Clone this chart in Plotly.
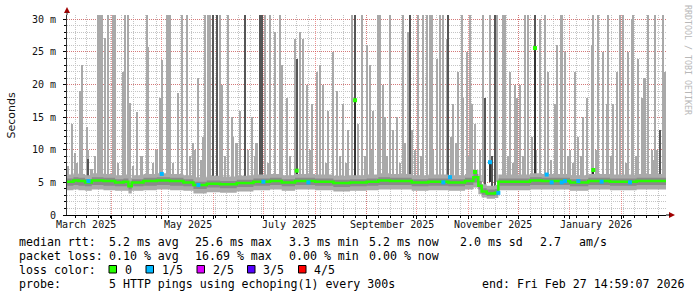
import plotly.graph_objects as go

# ---------------- data ----------------
x_start = "2025-03-05 03:00"
x_end = "2026-02-27 14:59:07"

# median RTT (ms), step series
med_dates = ["2025-03-05", "2025-03-09", "2025-03-12", "2025-03-16", "2025-03-20", "2025-03-27",
             "2025-04-03", "2025-04-08", "2025-04-11", "2025-04-13", "2025-04-20", "2025-04-28",
             "2025-05-06", "2025-05-14", "2025-05-20", "2025-05-28", "2025-06-05", "2025-06-15",
             "2025-06-25", "2025-07-05", "2025-07-12", "2025-07-20", "2025-08-01", "2025-08-12",
             "2025-08-22", "2025-09-01", "2025-09-08", "2025-09-15", "2025-09-28", "2025-10-08",
             "2025-10-20", "2025-10-30", "2025-11-04", "2025-11-07", "2025-11-09", "2025-11-12",
             "2025-11-17", "2025-11-19", "2025-12-01", "2025-12-08", "2025-12-15", "2026-01-01",
             "2026-01-12", "2026-01-25", "2026-02-10", "2026-02-27 14:59"]
med_ms = [5.1, 5.3, 5.2, 5.0, 5.3, 5.2,
          5.0, 5.1, 4.4, 5.0, 5.2, 5.3,
          5.2, 5.0, 4.6, 4.8, 4.7, 4.9,
          5.1, 5.2, 5.0, 5.2, 5.1, 4.9,
          5.0, 5.1, 5.3, 5.2, 5.0, 5.1,
          5.0, 5.2, 5.8, 4.5, 3.6, 3.3,
          3.4, 5.1, 5.1, 5.3, 5.2, 5.0,
          5.2, 5.1, 5.2, 5.2]
smoke_lo = [3.8, 3.9, 3.8, 3.7, 3.9, 3.8,
            3.7, 3.7, 3.3, 3.7, 3.8, 3.9,
            3.8, 3.7, 3.3, 3.5, 3.4, 3.6,
            3.8, 3.9, 3.7, 3.9, 3.8, 3.6,
            3.7, 3.8, 3.9, 3.9, 3.7, 3.8,
            3.7, 3.9, 4.2, 3.2, 2.7, 2.5,
            2.6, 3.8, 3.8, 3.9, 3.9, 3.7,
            3.9, 3.8, 3.9, 3.9]
core_lo = [4.5, 4.6, 4.5, 4.4, 4.6, 4.5,
           4.4, 4.4, 3.9, 4.4, 4.5, 4.6,
           4.5, 4.4, 4.0, 4.2, 4.1, 4.3,
           4.5, 4.6, 4.4, 4.6, 4.5, 4.3,
           4.4, 4.5, 4.6, 4.6, 4.4, 4.5,
           4.4, 4.6, 5.0, 3.9, 3.1, 2.9,
           3.0, 4.5, 4.5, 4.6, 4.6, 4.4,
           4.6, 4.5, 4.6, 4.6]
core_hi = [5.6, 5.8, 5.7, 5.5, 5.8, 5.7,
           5.5, 5.6, 5.0, 5.5, 5.7, 5.8,
           5.7, 5.5, 5.1, 5.3, 5.2, 5.4,
           5.6, 5.7, 5.5, 5.7, 5.6, 5.4,
           5.5, 5.6, 5.8, 5.7, 5.5, 5.6,
           5.5, 5.7, 6.3, 5.2, 4.1, 3.9,
           4.0, 5.6, 5.6, 5.8, 5.7, 5.5,
           5.7, 5.6, 5.7, 5.7]
smoke_hi = [6.2, 6.4, 6.3, 6.1, 6.4, 6.3,
            6.1, 6.2, 5.7, 6.1, 6.3, 6.4,
            6.3, 6.1, 5.8, 6.0, 5.9, 6.0,
            6.2, 6.3, 6.1, 6.3, 6.2, 6.0,
            6.1, 6.2, 6.4, 6.3, 6.1, 6.2,
            6.1, 6.3, 6.9, 6.0, 4.7, 4.5,
            4.6, 6.2, 6.2, 6.4, 6.3, 6.1,
            6.3, 6.2, 6.3, 6.3]

# light-grey smoke spikes (highest ping of a sample, ms); 31 = off the top
spike_dates = ["2025-03-08", "2025-03-10", "2025-03-13", "2025-03-14", "2025-03-17", "2025-03-18",
               "2025-03-24", "2025-03-25", "2025-03-26", "2025-03-28", "2025-03-30", "2025-04-02",
               "2025-04-03", "2025-04-08", "2025-04-09", "2025-04-11", "2025-04-12", "2025-04-16",
               "2025-04-22", "2025-04-23", "2025-04-30", "2025-05-01", "2025-05-04", "2025-05-05",
               "2025-05-06", "2025-05-11", "2025-05-13", "2025-05-16", "2025-05-23", "2025-05-26",
               "2025-05-27", "2025-05-29", "2025-05-30", "2025-06-05", "2025-06-06", "2025-06-10",
               "2025-06-12", "2025-06-15", "2025-06-17", "2025-06-24", "2025-07-02", "2025-07-05",
               "2025-07-08", "2025-07-11", "2025-07-12", "2025-07-15", "2025-07-20", "2025-07-23",
               "2025-07-25", "2025-07-27", "2025-07-30", "2025-08-02", "2025-08-04", "2025-08-06",
               "2025-08-09", "2025-08-12", "2025-08-14", "2025-08-18", "2025-08-21", "2025-08-23",
               "2025-08-27", "2025-08-29", "2025-09-01", "2025-09-03", "2025-09-05", "2025-09-08",
               "2025-09-09", "2025-09-11", "2025-09-12", "2025-09-15", "2025-09-17", "2025-09-19",
               "2025-09-23", "2025-09-26", "2025-09-28", "2025-09-30", "2025-10-02", "2025-10-05",
               "2025-10-07", "2025-10-09", "2025-10-10", "2025-10-13", "2025-10-15", "2025-10-17",
               "2025-10-19", "2025-10-23", "2025-10-26", "2025-10-28", "2025-10-29", "2025-10-31",
               "2025-11-02", "2025-11-03", "2025-11-05", "2025-11-08", "2025-11-10", "2025-11-14",
               "2025-11-18", "2025-11-22", "2025-11-23", "2025-11-26", "2025-11-29", "2025-11-30",
               "2025-12-02", "2025-12-05", "2025-12-07", "2025-12-09", "2025-12-14", "2025-12-17",
               "2025-12-19", "2025-12-23", "2025-12-24", "2025-12-27", "2025-12-29", "2026-01-01",
               "2026-01-04", "2026-01-06", "2026-01-09", "2026-01-11", "2026-01-14", "2026-01-15",
               "2026-01-18", "2026-01-21", "2026-01-23", "2026-01-24", "2026-01-27", "2026-01-29",
               "2026-01-31", "2026-02-02", "2026-02-05", "2026-02-07", "2026-02-08", "2026-02-11",
               "2026-02-13", "2026-02-15", "2026-02-17", "2026-02-19", "2026-02-21", "2026-02-22",
               "2026-02-26", "2026-02-27"]
spike_ms = [14, 9.5, 19, 23, 13.5, 10,
            31, 31, 31, 27.2, 31, 31,
            31, 22, 31, 31, 17.1, 15.8,
            31, 25.7, 18, 23.7, 31, 31,
            31, 18.7, 31, 31, 21, 12,
            31, 31, 31, 31, 20, 31,
            15, 11, 16, 15, 31, 31,
            28, 31, 23, 18, 27, 28,
            27, 20, 17, 22, 23, 20,
            16, 25, 19, 17, 13, 31,
            14, 31, 26, 23, 16, 31,
            31, 20, 15, 31, 13, 15,
            31, 28, 13, 10, 31, 31,
            31, 31, 31, 24, 31, 31,
            27, 17, 22, 31, 18, 25,
            31, 17, 14, 10, 31, 31,
            31, 31, 31, 22, 20, 18,
            20, 31, 31, 12, 30, 31,
            22, 17, 26, 31, 25, 10,
            22, 12, 15, 18, 26, 31,
            31, 25, 17, 31, 17, 22,
            31, 31, 25, 30, 31, 24,
            18, 21, 31, 10, 31, 10,
            31, 22]

# small light-grey spikes just above the band (ms)
fuzz_dates = ["2025-03-06", "2025-03-11", "2025-03-20", "2025-03-22", "2025-04-05", "2025-04-14",
              "2025-04-19", "2025-04-26", "2025-04-28", "2025-05-08", "2025-05-18", "2025-05-20",
              "2025-05-21", "2025-05-25", "2025-06-08", "2025-06-13", "2025-06-22", "2025-06-26",
              "2025-06-27", "2025-07-04", "2025-07-17", "2025-07-29", "2025-08-08", "2025-08-16",
              "2025-08-20", "2025-08-31", "2025-09-04", "2025-09-13", "2025-09-21", "2025-09-24",
              "2025-10-04", "2025-10-11", "2025-10-22", "2025-10-25", "2025-11-01", "2025-11-25",
              "2025-11-28", "2025-12-04", "2025-12-12", "2025-12-21", "2025-12-31", "2026-01-03",
              "2026-01-08", "2026-01-17", "2026-01-26", "2026-02-04", "2026-02-10", "2026-02-14",
              "2026-02-20"]
fuzz_ms = [7.5, 8, 7, 9, 8, 7.5,
           9, 8, 10, 8, 9, 11,
           10, 8.5, 9, 12, 10, 9,
           11, 8, 9, 10, 8, 9,
           8, 9, 10, 9, 8, 11,
           9, 10, 12, 11, 9, 9,
           8, 9, 10, 8.5, 9, 8,
           9, 10, 9, 8, 9, 8,
           8.5]

# dark-grey smoke spikes (several pings high, ms)
dark_dates = ["2025-03-18", "2025-06-01", "2025-06-03", "2025-06-20", "2025-06-29", "2025-06-30",
              "2025-07-21", "2025-08-25", "2025-09-27", "2025-10-20", "2025-11-11", "2025-11-15",
              "2025-11-17", "2025-12-11", "2026-02-24"]
dark_ms = [8.6, 31, 31, 31, 31, 31,
           24, 31, 31, 31, 18, 9,
           31, 31, 13]

# median samples far above the band (ms) and their loss class (0 or 1 of 5)
medspike_dates = ["2025-07-21", "2025-08-25", "2025-11-05", "2025-11-14", "2025-12-11", "2026-01-15"]
medspike_ms = [6.8, 17.6, 6.6, 8.1, 25.6, 6.9]
medspike_loss = [0, 0, 0, 1, 0, 0]

# samples with 1/5 packet loss
loss1_dates = ["2025-03-18", "2025-05-01", "2025-05-23", "2025-07-01", "2025-07-28", "2025-10-17",
               "2025-10-21", "2025-11-19", "2025-12-18", "2025-12-21", "2025-12-27", "2025-12-29",
               "2026-01-06", "2026-01-20", "2026-02-06"]
loss1_ms = [5.2, 6.3, 4.6, 5.1, 5.0, 5.0,
            5.8, 3.4, 6.2, 5.0, 5.0, 5.2,
            5.2, 5.1, 5.0]

month_starts = ["2025-04-01", "2025-05-01", "2025-06-01", "2025-07-01", "2025-08-01", "2025-09-01",
                "2025-10-01", "2025-11-01", "2025-12-01", "2026-01-01", "2026-02-01"]
label_dates = ["2025-03-16 12:00", "2025-05-16 12:00", "2025-07-16 12:00", "2025-09-16", "2025-11-16",
               "2026-01-16 12:00"]
label_text = ["March 2025", "May 2025", "July 2025", "September 2025", "November 2025", "January 2026"]

y_ticks = [0, 5, 10, 15, 20, 25, 30]
y_ticktext = ["0", "5 m", "10 m", "15 m", "20 m", "25 m", "30 m"]

loss_names = ["0", "1/5", "2/5", "3/5", "4/5"]
loss_colors = ["#26ff00", "#00b8ff", "#dd00ff", "#5500ff", "#ff0000"]

stats_rtt = ["median rtt:", "5.2 ms avg", "25.6 ms max", "3.3 ms min", "5.2 ms now", "2.0 ms sd", "2.7", "am/s"]
stats_loss = ["packet loss:", "0.10 % avg", "16.69 % max", "0.00 % min", "0.00 % now"]
probe_text = "5 HTTP pings using echoping(1) every 300s"
end_text = "end: Fri Feb 27 14:59:07 2026"

# ---------------- figure ----------------
DAY = 86400000
BASE = 5.0
W, H = 697, 297
L, R, T, B = 67, 31, 15, 82
PW, PH = W - L - R, H - T - B
MONO = "DejaVu Sans Mono"


def px(x):
    return (x - L) / PW


def py(y):
    return (T + PH - y) / PH


fig = go.Figure()

# light spikes
fig.add_trace(go.Bar(x=spike_dates, y=[v - BASE for v in spike_ms], base=BASE,
                     width=[1.2 * DAY] * len(spike_dates), marker=dict(color="#a9a9a9", line_width=0),
                     hoverinfo="skip"))
fig.add_trace(go.Bar(x=fuzz_dates, y=[v - BASE for v in fuzz_ms], base=BASE,
                     width=[1.0 * DAY] * len(fuzz_dates), marker=dict(color="#a9a9a9", line_width=0),
                     hoverinfo="skip"))
# outer smoke
fig.add_trace(go.Scatter(x=med_dates, y=smoke_lo, mode="lines", line=dict(width=0, shape="hv"),
                         hoverinfo="skip"))
fig.add_trace(go.Scatter(x=med_dates, y=smoke_hi, mode="lines", line=dict(width=0, shape="hv"),
                         fill="tonexty", fillcolor="#aaaaaa", hoverinfo="skip"))
# core smoke
fig.add_trace(go.Scatter(x=med_dates, y=core_lo, mode="lines", line=dict(width=0, shape="hv"),
                         hoverinfo="skip"))
fig.add_trace(go.Scatter(x=med_dates, y=core_hi, mode="lines", line=dict(width=0, shape="hv"),
                         fill="tonexty", fillcolor="#8a8a8a", hoverinfo="skip"))
# dark spikes
fig.add_trace(go.Bar(x=dark_dates, y=[v - BASE + 1.0 for v in dark_ms], base=BASE - 1.0,
                     width=[0.8 * DAY] * len(dark_dates), marker=dict(color="#555555", line_width=0),
                     hoverinfo="skip"))
fig.add_trace(go.Bar(x=medspike_dates, y=[v - BASE for v in medspike_ms], base=BASE,
                     width=[0.7 * DAY] * len(medspike_dates), marker=dict(color="#333333", line_width=0),
                     hoverinfo="skip"))
# median line
fig.add_trace(go.Scatter(x=med_dates, y=med_ms, mode="lines",
                         line=dict(color=loss_colors[0], width=2.5, shape="hv"), hoverinfo="skip"))
# loss markers
fig.add_trace(go.Scatter(x=loss1_dates, y=loss1_ms, mode="markers",
                         marker=dict(symbol="square", size=4, color=loss_colors[1], line_width=0),
                         hoverinfo="skip"))
fig.add_trace(go.Scatter(x=medspike_dates, y=medspike_ms, mode="markers",
                         marker=dict(symbol="square", size=4, color=[loss_colors[k] for k in medspike_loss],
                                     line_width=0),
                         hoverinfo="skip"))

grid_red = "rgba(225,60,60,0.55)"
grid_gray = "#c4c4c4"

fig.update_layout(
    width=W, height=H, margin=dict(l=L, r=R, t=T, b=B, autoexpand=False),
    paper_bgcolor="white", plot_bgcolor="white", showlegend=False, barmode="overlay",
    bargap=0,
    xaxis=dict(type="date", range=[x_start, x_end], tickmode="array", tickvals=month_starts,
               ticktext=[""] * len(month_starts), showgrid=True, gridcolor=grid_red, griddash="1px,1px",
               gridwidth=1, ticks="outside", ticklen=3, tickcolor="#000", showline=True,
               linecolor="#000", linewidth=1, zeroline=False, automargin=False,
               minor=dict(tickmode="linear", tick0="2025-03-03", dtick=7 * DAY, showgrid=True,
                          gridcolor=grid_gray, griddash="1px,1px", ticks="outside", ticklen=2,
                          tickcolor="#000")),
    yaxis=dict(range=[0, 30.67], tickmode="array", tickvals=y_ticks, ticktext=y_ticktext,
               showgrid=True, gridcolor=grid_red, griddash="1px,1px", ticks="outside", ticklen=3,
               tickcolor="#000", showline=True, linecolor="#333", linewidth=1, zeroline=False,
               tickfont=dict(family=MONO, size=10, color="#111"), ticklabelstandoff=5,
               automargin=False,
               minor=dict(tickmode="linear", tick0=0, dtick=1, showgrid=True, gridcolor=grid_gray,
                          griddash="1px,1px", ticks="outside", ticklen=2, tickcolor="#000")),
)

ann = []
# x-axis month labels
for d, t in zip(label_dates, label_text):
    ann.append(dict(x=d, xref="x", y=py(224.5), yref="paper", text=t, showarrow=False,
                    xanchor="center", yanchor="middle", font=dict(family=MONO, size=10, color="#111")))
# y title
ann.append(dict(x=px(10.5), y=py(116), xref="paper", yref="paper", text="Seconds", textangle=-90,
                showarrow=False, xanchor="center", yanchor="middle",
                font=dict(family="DejaVu Sans", size=11, color="#111")))
# watermark
ann.append(dict(x=px(688), y=py(60), xref="paper", yref="paper", text="RRDTOOL / TOBI OETIKER",
                textangle=90, showarrow=False, xanchor="center", yanchor="middle",
                font=dict(family=MONO, size=8.3, color="#b8b8b8")))

FS = 11.6


def txt(x, y, s):
    ann.append(dict(x=px(x), y=py(y), xref="paper", yref="paper", text=s.replace(" ", "\u00a0"),
                    showarrow=False, xanchor="left", yanchor="middle",
                    font=dict(family=MONO, size=FS, color="#000")))


rtt_x = [16.7, 107.3, 193.3, 286.7, 366.7, 458, 537.7, 576.7]
for xx, s in zip(rtt_x, stats_rtt):
    txt(xx, 241.5, s)
loss_x = [16.7, 107.3, 193.3, 286.7, 366.7]
for xx, s in zip(loss_x, stats_loss):
    txt(xx, 255.5, s)
txt(16.7, 269.5, "loss color:")
sq_x = [109, 146, 197, 247.5, 298.5]
shapes = []
for xx, name, col in zip(sq_x, loss_names, loss_colors):
    shapes.append(dict(type="rect", xref="paper", yref="paper", x0=px(xx), x1=px(xx + 7.5),
                       y0=py(273), y1=py(265.5), fillcolor=col, line=dict(color="#000", width=1)))
    txt(xx + 13.5, 269.5, name)
txt(16.7, 283.5, "probe:")
txt(107.3, 283.5, probe_text)
txt(480, 283.5, end_text)

# axis arrows
shapes.append(dict(type="path", xref="paper", yref="paper",
                   path=f"M {px(64)} {py(13)} L {px(70)} {py(13)} L {px(67)} {py(7)} Z",
                   fillcolor="#a00000", line=dict(width=0)))
shapes.append(dict(type="path", xref="paper", yref="paper",
                   path=f"M {px(669)} {py(212)} L {px(669)} {py(218)} L {px(675)} {py(215)} Z",
                   fillcolor="#a00000", line=dict(width=0)))
# axis line extensions
shapes.append(dict(type="line", xref="paper", yref="paper", x0=px(666), x1=px(670), y0=0, y1=0,
                   line=dict(color="#000", width=1)))
shapes.append(dict(type="line", xref="paper", yref="paper", x0=0, x1=0, y0=1, y1=py(12),
                   line=dict(color="#333", width=1)))

fig.update_layout(annotations=ann, shapes=shapes)
fig.write_html("out.html")
